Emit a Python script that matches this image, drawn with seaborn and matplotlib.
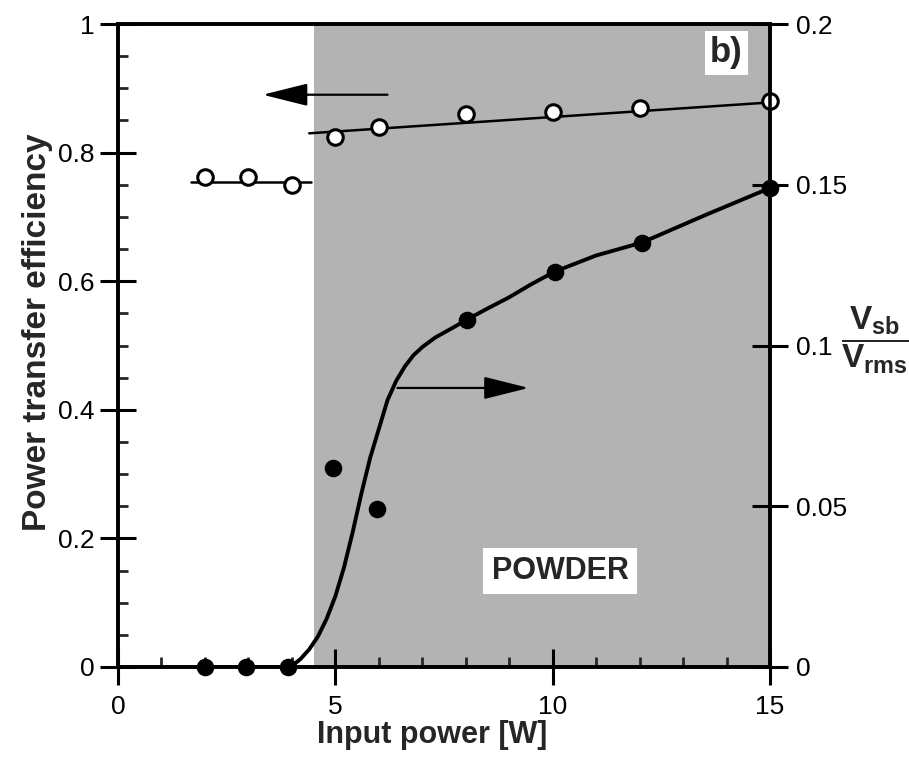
import numpy as np
import pandas as pd
import matplotlib
matplotlib.use('Agg')
import matplotlib.pyplot as plt
import seaborn as sns
from matplotlib.ticker import MultipleLocator, FixedLocator

# ---- data ----
power_open = [2, 3, 4, 5, 6, 8, 10, 12, 15]
efficiency = [0.762, 0.762, 0.750, 0.824, 0.840, 0.860, 0.863, 0.869, 0.880]
fit_low_x = [1.67, 4.45]
fit_low_y = [0.754, 0.754]
fit_high_x = [4.4, 15.0]
fit_high_y = [0.830, 0.878]
power_filled = [2, 2.95, 3.9, 4.95, 5.97, 8.02, 10.05, 12.05, 15]
vsb_ratio = [0, 0, 0, 0.062, 0.049, 0.108, 0.123, 0.132, 0.149]
curve_x = [2.0, 3.9, 4.0, 4.2, 4.4, 4.6, 4.8, 5.0, 5.2, 5.4, 5.6, 5.8, 6.0,
           6.2, 6.4, 6.6, 6.8, 7.0, 7.3, 7.7, 8.02, 8.5, 9.0, 9.5, 10.05,
           11.0, 12.05, 13.5, 15.0]
curve_v = [0, 0, 0.0003, 0.0025, 0.0055, 0.0095, 0.015, 0.022, 0.031, 0.042,
           0.054, 0.065, 0.074, 0.083, 0.089, 0.0935, 0.097, 0.0995, 0.1025,
           0.1055, 0.108, 0.1115, 0.115, 0.119, 0.123, 0.128, 0.132, 0.1405,
           0.149]
powder_start = 4.5
x_ticks = [0, 5, 10, 15]
left_ticks = [0, 0.2, 0.4, 0.6, 0.8, 1]
left_ticklabels = ['0', '0.2', '0.4', '0.6', '0.8', '1']
right_ticks = [0, 0.05, 0.1, 0.15, 0.2]
right_ticklabels = ['0', '0.05', '0.1', '0.15', '0.2']

sns.set_theme(style='ticks')
plt.rcParams['font.family'] = ['Liberation Sans', 'DejaVu Sans']
plt.rcParams['mathtext.fontset'] = 'custom'
plt.rcParams['mathtext.rm'] = 'Liberation Sans'
plt.rcParams['mathtext.bf'] = 'Liberation Sans:bold'
plt.rcParams['mathtext.it'] = 'Liberation Sans:italic'

fig = plt.figure(figsize=(9.09, 7.58), dpi=100)
ax = fig.add_axes([118/909, 1-667/758, (770-118)/909, (667-24)/758])
ax2 = ax.twinx()

ax.axvspan(powder_start, 15, color='#b3b3b3', lw=0, zorder=0)

df_open = pd.DataFrame({'P': power_open, 'eff': efficiency})
df_fill = pd.DataFrame({'P': power_filled, 'v': vsb_ratio})
df_curve = pd.DataFrame({'P': curve_x, 'v': curve_v})

sns.lineplot(x=fit_low_x, y=fit_low_y, ax=ax, color='black', lw=1.8, zorder=3)
sns.lineplot(x=fit_high_x, y=fit_high_y, ax=ax, color='black', lw=1.8, zorder=3)
sns.scatterplot(data=df_open, x='P', y='eff', ax=ax, s=125, facecolor='white',
                edgecolor='black', linewidth=2.2, zorder=4, clip_on=False)

sns.lineplot(data=df_curve, x='P', y='v', ax=ax2, color='black', lw=2.8,
             zorder=3, sort=False)
sns.scatterplot(data=df_fill, x='P', y='v', ax=ax2, s=160, color='black',
                edgecolor='black', linewidth=0, zorder=4, clip_on=False)

ax.set_xlim(0, 15)
ax.set_ylim(0, 1)
ax2.set_ylim(0, 0.2)

ax.annotate('', xy=(3.33, 0.89), xytext=(6.2, 0.89),
            arrowprops=dict(arrowstyle='-|>,head_length=1.4,head_width=0.35',
                            mutation_scale=20, lw=1.6, color='black',
                            shrinkA=0, shrinkB=0))
ax.annotate('', xy=(9.45, 0.434), xytext=(6.43, 0.434),
            arrowprops=dict(arrowstyle='-|>,head_length=1.4,head_width=0.35',
                            mutation_scale=20, lw=1.6, color='black',
                            shrinkA=0, shrinkB=0))

ax.text(10.17, 0.149, 'POWDER', ha='center', va='center', fontsize=22,
        fontweight='bold', zorder=5,
        bbox=dict(facecolor='white', edgecolor='none', pad=6))
ax.text(14.0, 0.955, 'b)', ha='center', va='center', fontsize=25,
        fontweight='bold', zorder=5,
        bbox=dict(facecolor='white', edgecolor='none', pad=4))

ax.set_xlabel('Input power [W]', fontsize=22, fontweight='bold')
ax.set_ylabel('Power transfer efficiency', fontsize=24, fontweight='bold')
ax.xaxis.set_label_coords(0.482, -0.083)
ax.yaxis.set_label_coords(-0.1, 0.52)
ax2.set_ylabel('')

ax.xaxis.set_major_locator(FixedLocator(x_ticks))
ax.xaxis.set_minor_locator(MultipleLocator(1))
ax.set_yticks(left_ticks)
ax.set_yticklabels(left_ticklabels)
ax.yaxis.set_minor_locator(MultipleLocator(0.05))
ax2.set_yticks(right_ticks)
ax2.set_yticklabels(right_ticklabels)

for a in (ax, ax2):
    for s in a.spines.values():
        s.set_linewidth(2.6)
        s.set_color('black')
        s.set_visible(True)

ax.tick_params(axis='both', which='major', direction='inout', length=26,
               width=2.2, labelsize=19, colors='black', top=False, right=False)
ax.tick_params(axis='x', which='major', pad=7)
ax.tick_params(axis='y', which='major', pad=4)
ax.tick_params(axis='both', which='minor', direction='in', length=7,
               width=2, top=False, right=False)
ax2.tick_params(axis='y', which='major', direction='inout', length=26,
                width=2.2, labelsize=19, colors='black', pad=6, left=False)
ax2.tick_params(axis='y', which='minor', right=False, left=False)

fig.text(875/909, 1-340/758, r'$\dfrac{\mathbf{V_{sb}}}{\mathbf{V_{rms}}}$',
         ha='center', va='center', fontsize=24)

fig.savefig('out.png', dpi=100)
